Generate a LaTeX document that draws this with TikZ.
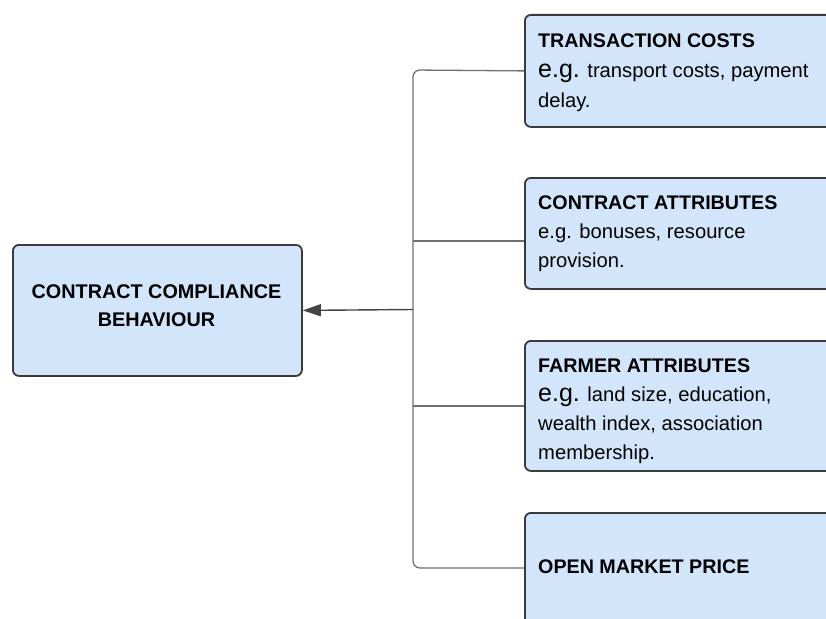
\documentclass[tikz,border=0pt]{standalone}
\usepackage{fontspec}
\setmainfont{Liberation Sans}
\usetikzlibrary{arrows.meta}
\definecolor{boxfill}{HTML}{D2E5FB}
\definecolor{boxline}{HTML}{3A3A3A}
\definecolor{connline}{HTML}{707070}
\definecolor{arrline}{HTML}{444444}
\tikzset{
  box/.style={draw=boxline, fill=boxfill, line width=1.8pt, rounded corners=6pt, anchor=north west, inner sep=0pt},
  conn/.style={draw=connline, line width=1.3pt},
  arr/.style={draw=arrline, line width=1.4pt, -{Triangle[length=18pt,width=12pt]}},
  txt/.style={anchor=base west, inner sep=0pt, text=black},
}
\newcommand{\eg}{{\fontsize{25}{29}\selectfont e.g.}}
\newcommand{\ttl}[1]{{\fontsize{19.7}{29}\selectfont\bfseries #1}}
\begin{document}
\begin{tikzpicture}[x=1pt,y=-1pt]
\useasboundingbox (0,0) rectangle (826,618);
\clip (0,0) rectangle (826,618);
% boxes
\node[box, minimum width=289pt, minimum height=131pt] (main) at (12,244) {};
\node[box, minimum width=330pt, minimum height=112pt] (b1) at (524,14) {};
\node[box, minimum width=330pt, minimum height=111pt] (b2) at (524,177) {};
\node[box, minimum width=330pt, minimum height=130pt] (b3) at (524,340) {};
\node[box, minimum width=330pt, minimum height=130pt] (b4) at (524,512) {};
% texts
\node[anchor=center, align=center, font=\bfseries\fontsize{19.8}{28}\selectfont, inner sep=0pt] (mt) at (156.5,306) {CONTRACT COMPLIANCE\\BEHAVIOUR};
\node[txt] (t1) at (538,48) {\parbox[t]{280pt}{\fontsize{20.2}{29.5}\selectfont\ttl{TRANSACTION COSTS}\\\eg{} transport costs, payment\\delay.}};
\node[txt] (t2) at (538,209) {\parbox[t]{280pt}{\fontsize{20.2}{29}\selectfont\ttl{CONTRACT ATTRIBUTES}\\e.g. bonuses, resource\\provision.}};
\node[txt] (t3) at (538,372) {\parbox[t]{280pt}{\fontsize{20.2}{29}\selectfont\ttl{FARMER ATTRIBUTES}\\\eg{} land size, education,\\wealth index, association\\membership.}};
\node[txt] (t4) at (538,573) {\parbox[t]{280pt}{\fontsize{20.2}{29}\selectfont\ttl{OPEN MARKET PRICE}}};
% connectors
\coordinate (j1) at (413,70);
\coordinate (j2) at (413,241);
\coordinate (j3) at (413,406);
\coordinate (j4) at (413,568);
\coordinate (jm) at (413,309.5);
\coordinate (e2) at (524,241);
\coordinate (e3) at (524,406);
\coordinate (e4) at (524,568);
\draw[conn, rounded corners=7pt] (b1.west) -- (j1) -- (j4) -- (e4);
\draw[conn] (j2) -- (e2);
\draw[conn] (j3) -- (e3);
\draw[arr] (jm) -- (main.east);
\end{tikzpicture}
\end{document}
